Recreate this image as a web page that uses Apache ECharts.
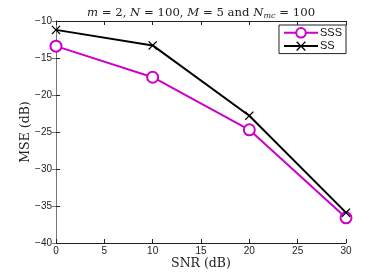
<!DOCTYPE html>
<html><head><meta charset="utf-8">
<script src="https://cdn.jsdelivr.net/npm/echarts@6/dist/echarts.min.js"></script>
<style>html,body{margin:0;padding:0;background:#fff}#c{width:382px;height:273px}</style>
</head><body><div id="c"></div>
<script>
const snr = [0, 10, 20, 30];
const sss = [-13.4, -17.6, -24.7, -36.6];
const ss = [-11.2, -13.3, -22.8, -35.9];
const xTicks = [0, 5, 10, 15, 20, 25, 30];
const yTicks = [-40, -35, -30, -25, -20, -15, -10];

const chart = echarts.init(document.getElementById('c'), null, {renderer: 'canvas'});
const tickFont = {fontFamily: 'Liberation Sans', fontSize: 10, color: '#222'};
const minusFmt = v => String(v).replace('-', '\u2212');
const xMark = 'path://M0,1L1,0L5,4L9,0L10,1L6,5L10,9L9,10L5,6L1,10L0,9L4,5Z';
chart.setOption({
  animation: false,
  title: {
    text: '{i|m} = 2, {i|N} = 100, {i|M} = 5 and {i|N}{s|mc} = 100',
    left: 196, top: 1, textAlign: 'center',
    textStyle: {
      fontFamily: 'DejaVu Serif', fontSize: 11.7, fontWeight: 'normal', color: '#222',
      rich: {
        i: {fontFamily: 'DejaVu Serif', fontStyle: 'italic', fontSize: 11.7, color: '#222'},
        s: {fontFamily: 'DejaVu Serif', fontStyle: 'italic', fontSize: 8, color: '#222', verticalAlign: 'bottom', padding: [6, 0, 0, 0]}
      }
    }
  },
  legend: {
    right: 36, top: 25, orient: 'vertical', itemGap: 2, itemWidth: 34, itemHeight: 12,
    backgroundColor: '#fff', borderColor: '#222', borderWidth: 1, borderRadius: 0,
    padding: [2, 4, 2, 4],
    textStyle: {fontFamily: 'Liberation Sans', fontSize: 11, color: '#111', padding: [0,0,0,-3]},
    data: ['SSS', 'SS']
  },
  grid: {left: 56, right: 36, top: 21, bottom: 30, show: false, outerBoundsMode: 'none', containLabel: false},
  xAxis: [{
    type: 'value', min: 0, max: 30, interval: 5,
    name: 'SNR (dB)', nameLocation: 'middle', nameGap: 14, nameMoveOverlap: false,
    nameTextStyle: {fontFamily: 'DejaVu Serif', fontSize: 12.5, color: '#222'},
    axisLine: {lineStyle: {color: '#222', width: 1}},
    axisTick: {inside: true, length: 4, lineStyle: {color: '#222'}},
    axisLabel: Object.assign({margin: 3, formatter: minusFmt}, tickFont),
    splitLine: {show: false}
  }, {
    type: 'value', min: 0, max: 30, interval: 5, position: 'top',
    axisLine: {show: true, lineStyle: {color: '#222', width: 1}},
    axisTick: {inside: true, length: 4, lineStyle: {color: '#222'}},
    axisLabel: {show: false}, splitLine: {show: false}
  }],
  yAxis: [{
    type: 'value', min: -40, max: -10, interval: 5,
    name: 'MSE (dB)', nameLocation: 'middle', nameGap: 24, nameMoveOverlap: false,
    nameTextStyle: {fontFamily: 'DejaVu Serif', fontSize: 12.5, color: '#222'},
    axisLine: {show: true, lineStyle: {color: '#222', width: 1}},
    axisTick: {show: true, inside: true, length: 4, lineStyle: {color: '#222'}},
    axisLabel: Object.assign({margin: 4, formatter: minusFmt}, tickFont),
    splitLine: {show: false}
  }, {
    type: 'value', min: -40, max: -10, interval: 5, position: 'right',
    axisLine: {show: true, lineStyle: {color: '#777', width: 1}},
    axisTick: {show: true, inside: true, length: 4, lineStyle: {color: '#777'}},
    axisLabel: {show: false}, splitLine: {show: false}
  }],
  series: [{
    name: 'SSS', type: 'line', data: snr.map((x, i) => [x, sss[i]]),
    symbol: 'emptyCircle', symbolSize: 11, showAllSymbol: true,
    lineStyle: {color: '#CC00CC', width: 2},
    itemStyle: {color: '#CC00CC', borderColor: '#CC00CC', borderWidth: 2},
    z: 3
  }, {
    name: 'SS', type: 'line', data: snr.map((x, i) => [x, ss[i]]),
    symbol: xMark, symbolSize: 9,
    lineStyle: {color: '#000', width: 2},
    itemStyle: {color: '#000', borderWidth: 0},
    z: 4
  }]
});
</script></body></html>
